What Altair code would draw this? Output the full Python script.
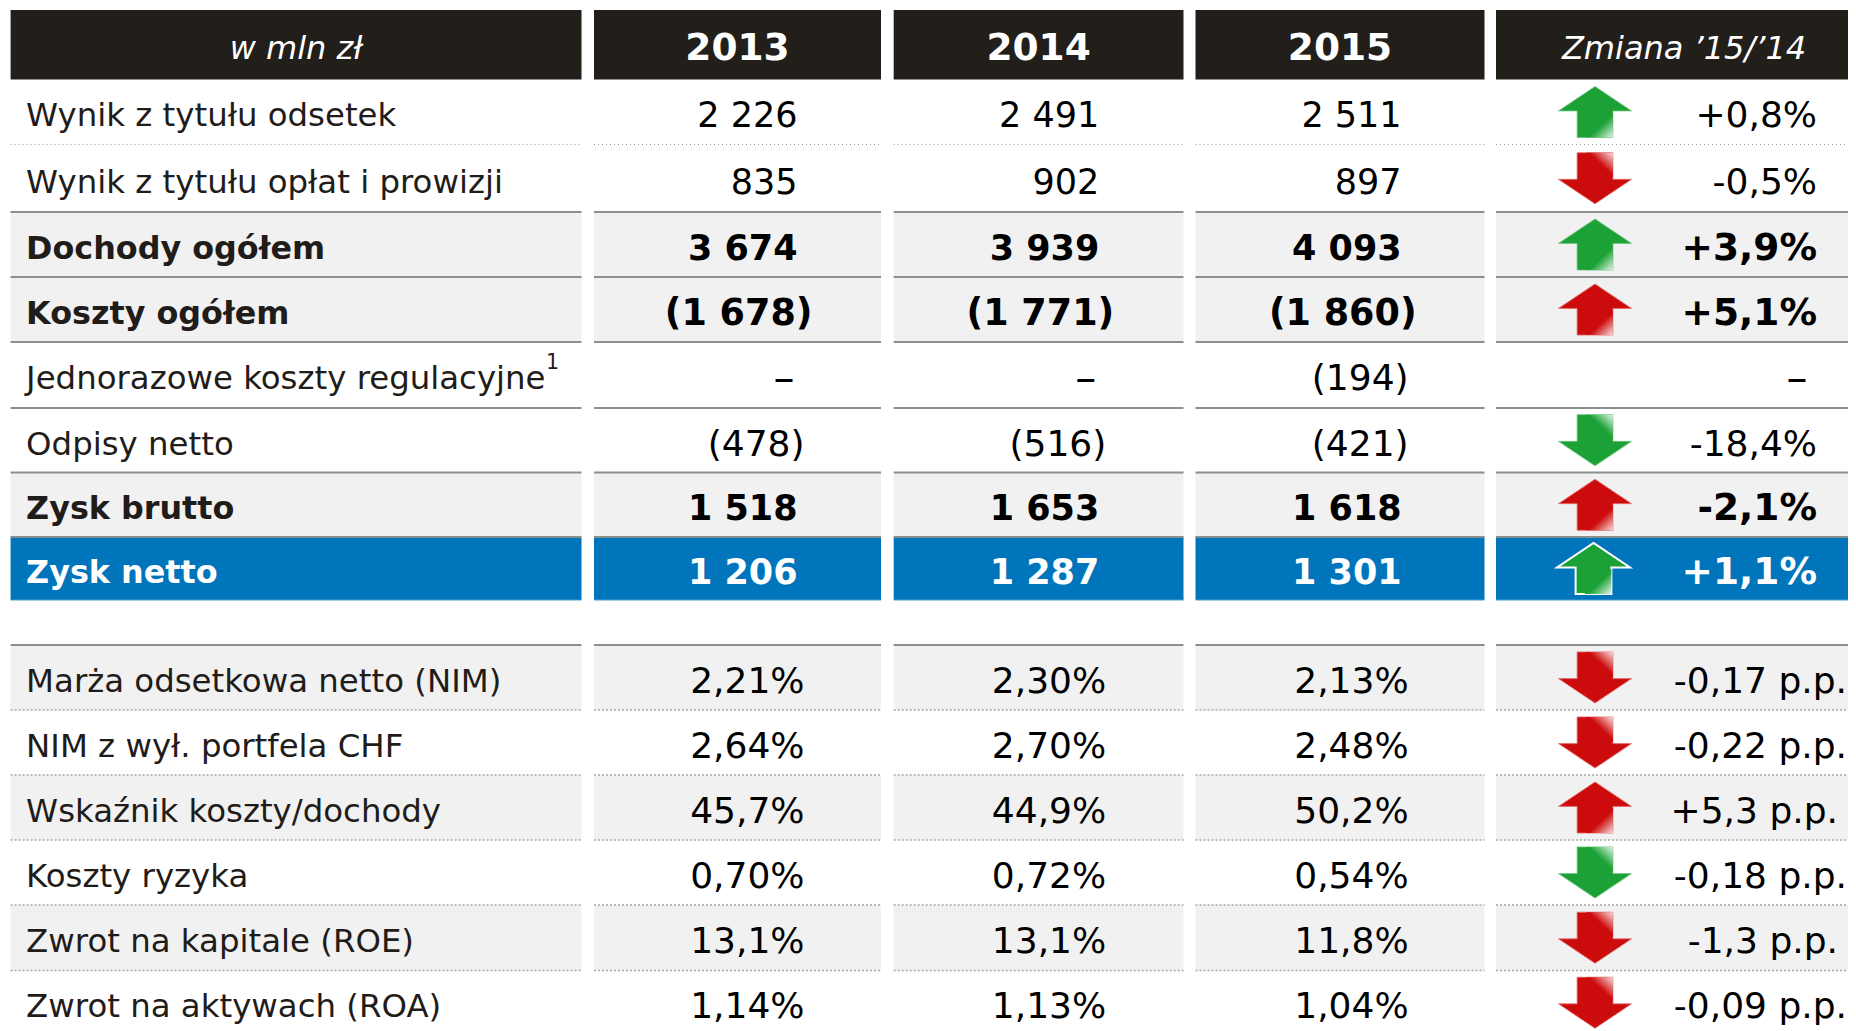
import altair as alt
import pandas as pd

# ---- values ----
header = ["w mln zł", "2013", "2014", "2015", "Zmiana ’15/’14"]
labels = ["Wynik z tytułu odsetek", "Wynik z tytułu opłat i prowizji", "Dochody ogółem", "Koszty ogółem",
          "Jednorazowe koszty regulacyjne", "Odpisy netto", "Zysk brutto", "Zysk netto", "",
          "Marża odsetkowa netto (NIM)", "NIM z wył. portfela CHF", "Wskaźnik koszty/dochody",
          "Koszty ryzyka", "Zwrot na kapitale (ROE)", "Zwrot na aktywach (ROA)"]
v2013 = ["2 226", "835", "3 674", "(1 678)", "–", "(478)", "1 518", "1 206", "",
         "2,21%", "2,64%", "45,7%", "0,70%", "13,1%", "1,14%"]
v2014 = ["2 491", "902", "3 939", "(1 771)", "–", "(516)", "1 653", "1 287", "",
         "2,30%", "2,70%", "44,9%", "0,72%", "13,1%", "1,13%"]
v2015 = ["2 511", "897", "4 093", "(1 860)", "(194)", "(421)", "1 618", "1 301", "",
         "2,13%", "2,48%", "50,2%", "0,54%", "11,8%", "1,04%"]
change = ["+0,8%", "-0,5%", "+3,9%", "+5,1%", "–", "-18,4%", "-2,1%", "+1,1%", "",
          "-0,17 p.p.", "-0,22 p.p.", "+5,3 p.p.", "-0,18 p.p.", "-1,3 p.p.", "-0,09 p.p."]
direction = ["up", "down", "up", "up", "", "down", "up", "up", "",
             "down", "down", "up", "down", "down", "down"]
tone = ["good", "bad", "good", "bad", "", "good", "bad", "good", "",
        "bad", "bad", "bad", "good", "bad", "bad"]
kind = ["plain", "plain", "total", "total", "plain", "plain", "total", "net", "gap",
        "plain", "plain", "plain", "plain", "plain", "plain"]
shaded = [0, 0, 1, 1, 0, 0, 1, 0, 0, 1, 0, 1, 0, 1, 0]
rule_below = ["thin", "solid", "solid", "solid", "solid", "solid", "solid", "edge", "solid",
              "dots", "dots", "dots", "dots", "dots", "none"]
footnote = "1"

# ---- layout scales: column and row edges ----
col_domain = [0, .9, 1, 1.9, 2, 2.9, 3, 3.9, 4, 4.9]
col_range = [2.6, 573.5, 586, 873, 885.7, 1175.5, 1187.5, 1476.5, 1488, 1848]
col_nudge = [0, .002, .005]
row_domain = list(range(0, 17))
row_range = [2, 71.5, 136.5, 204, 269, 334, 400, 464.5, 529, 592, 637, 702, 767, 832, 897, 962.5, 1027]
X = alt.Scale(domain=col_domain, range=col_range, nice=False, zero=False)
Y = alt.Scale(domain=row_domain, range=row_range, nice=False, zero=False)
x = lambda f: alt.X(f, type="quantitative", scale=X, axis=None)
y = lambda f: alt.Y(f, type="quantitative", scale=Y, axis=None)

HEAD = "#221e1a"; GREY = "#f1f1f1"; BLUE = "#0075bb"; INK = "#1f1c19"; FONT = "DejaVu Sans"
TEXT_DY = 4.4

cells, rules, texts = [], [], []
for r, lab in enumerate(labels):
    row = r + 1
    for c in range(5):
        fill = "net" if kind[r] == "net" else ("grey" if shaded[r] else "")
        if fill:
            cells.append(dict(c=c, c2=c + .9, r=row, r2=row + 1, fill=fill))
        if rule_below[r] != "none":
            rules.append(dict(c=c, c2=c + .9, r=row + 1, style=rule_below[r]))
    for c, col in enumerate([v2013, v2014, v2015]):
        t = col[r]
        if not t:
            continue
        hang = "paren" if t.endswith(")") else ("pct" if t.endswith("%") else ("dash" if t == "–" else "num"))
        texts.append(dict(c=c + 1.45 + col_nudge[c], r=row + .5, t=t, k=kind[r], group=hang))
    t = change[r]
    if t:
        g = "chgdash" if t == "–" else ("pp2" if len(t) == 10 else ("pp1" if t.endswith("p.") else "chg"))
        texts.append(dict(c=4.45, r=row + .5, t=t, k=kind[r], group=g))

cells = pd.DataFrame(cells)
rules = pd.DataFrame(rules)
texts = pd.DataFrame(texts)
heads = pd.DataFrame(dict(c=[i for i in range(5)], c2=[i + .9 for i in range(5)],
                          m=[i + .45 for i in range(5)], r=[0] * 5, r2=[1] * 5, rm=[.5] * 5, t=header))
labs = pd.DataFrame(dict(c=[0] * len(labels), r=[i + 1.5 for i in range(len(labels))], t=labels, k=kind))
arrows = pd.DataFrame(dict(c=[4.45] * len(labels), r=[i + 1.5 for i in range(len(labels))], d=direction, tone=tone, k=kind))

layers = []
layers.append(alt.Chart(heads).mark_rect(color=HEAD).encode(x=x("c"), x2="c2", y=y("r"), y2="r2"))
for name, colr in [("grey", GREY), ("net", BLUE)]:
    layers.append(alt.Chart(cells[cells.fill == name]).mark_rect(color=colr).encode(x=x("c"), x2="c2", y=y("r"), y2="r2"))

styles = {
    "solid": dict(color="#8b8f8d", strokeWidth=2.2),
    "thin": dict(color="#9a9a9a", strokeWidth=1, strokeDash=[1, 3]),
    "dots": dict(color="#a8a8a8", strokeWidth=1.6, strokeDash=[2, 2]),
    "edge": dict(color="#4d9fd3", strokeWidth=1),
}
for name, st in styles.items():
    layers.append(alt.Chart(rules[rules["style"] == name]).mark_rule(**st).encode(x=x("c"), x2="c2", y=y("r")))

# header text
layers.append(alt.Chart(heads[heads.t.isin(header[1:4])]).mark_text(font=FONT, fontWeight="bold", fontSize=37.5, color="white", dy=4.5).encode(
    x=x("m"), y=y("rm"), text="t"))
layers.append(alt.Chart(heads[heads.t == header[0]]).mark_text(font=FONT, fontStyle="italic", fontSize=32, color="white", dy=4, dx=0).encode(
    x=x("m"), y=y("rm"), text="t"))
layers.append(alt.Chart(heads[heads.t == header[4]]).mark_text(font=FONT, fontStyle="italic", fontSize=32, color="white", dy=4, dx=8).encode(
    x=x("m"), y=y("rm"), text="t"))

# row labels
for k, col, w, s in [("plain", INK, "normal", 32.4), ("total", INK, "bold", 31.8), ("net", "white", "bold", 31.8)]:
    layers.append(alt.Chart(labs[labs.k == k]).mark_text(font=FONT, fontSize=s, fontWeight=w, color=col, align="left", dx=15.5, dy=TEXT_DY).encode(
        x=x("c"), y=y("r"), text="t"))
layers.append(alt.Chart(labs[labs.t == labels[4]].assign(t=footnote)).mark_text(font=FONT, fontSize=20.5, color=INK, align="left", dx=535.4, dy=-12).encode(
    x=x("c"), y=y("r"), text="t"))

# values: (right-edge offset, regular size, bold size)
groups = {"num": (60, 35, 35), "pct": (67, 36, 36), "paren": (67, 36, 36.5), "dash": (57, 42, 42),
          "chg": (141, 36, 37.5), "chgdash": (131.5, 42, 42), "pp2": (171, 36, 36), "pp1": (162, 36, 36)}
for g, (dx, reg, bld) in groups.items():
    for k, col, w, s in [("plain", "black", "normal", reg), ("total", "black", "bold", bld), ("net", "white", "bold", bld)]:
        sub = texts[(texts.group == g) & (texts.k == k)]
        if sub.empty:
            continue
        d = dx + (8 if g == "paren" and k == "total" else 0)
        layers.append(alt.Chart(sub).mark_text(font=FONT, fontSize=s, fontWeight=w, color=col, align="right", dx=d, dy=TEXT_DY).encode(
            x=x("c"), y=y("r"), text="t"))

# arrows
UP = "M0,-0.7L1,-0.03L0.49,-0.03L0.49,0.7L-0.49,0.7L-0.49,-0.03L-1,-0.03Z"
DOWN = "M0,0.7L1,0.03L0.49,0.03L0.49,-0.7L-0.49,-0.7L-0.49,0.03L-1,0.03Z"
UP_GLOSS = "M0.49,0L0.49,0.7L-0.25,0.7Z"
DOWN_GLOSS = "M0.49,0L0.49,-0.7L-0.25,-0.7Z"
TONES = {"good": ("#1ba135", "#e4f4e7", "#6cc47d"), "bad": ("#cc0c0c", "#f8dcdc", "#e5696a")}
ASIZE = 73 ** 2
for d, path, gloss, grad in [("up", UP, UP_GLOSS, dict(x1=0, y1=0, x2=1, y2=1)),
                             ("down", DOWN, DOWN_GLOSS, dict(x1=0, y1=1, x2=1, y2=0))]:
    for t, (base, pale, edge) in TONES.items():
        for net in [False, True]:
            sub = arrows[(arrows.d == d) & (arrows.tone == t) & ((arrows.k == "net") == net)]
            if sub.empty:
                continue
            off = -82.5 if net else -81
            layers.append(alt.Chart(sub).mark_point(shape=path, size=ASIZE, filled=True, opacity=1, fill=base,
                                                    stroke="white" if net else edge, strokeWidth=2 if net else 0.8,
                                                    xOffset=off).encode(x=x("c"), y=y("r")))
            layers.append(alt.Chart(sub).mark_point(shape=gloss, size=ASIZE, filled=True, opacity=1,
                                                    fill=alt.LinearGradient(gradient="linear",
                                                                            stops=[alt.GradientStop(color=base, offset=.55),
                                                                                   alt.GradientStop(color=pale, offset=1)], **grad),
                                                    xOffset=off).encode(x=x("c"), y=y("r")))

chart = alt.layer(*layers).properties(width=1840, height=1023, padding=0, background="white",
                                       autosize=alt.AutoSizeParams(type="none")).configure_view(stroke=None)
chart.save("out.html", embed_options={"renderer": "svg", "actions": False})
